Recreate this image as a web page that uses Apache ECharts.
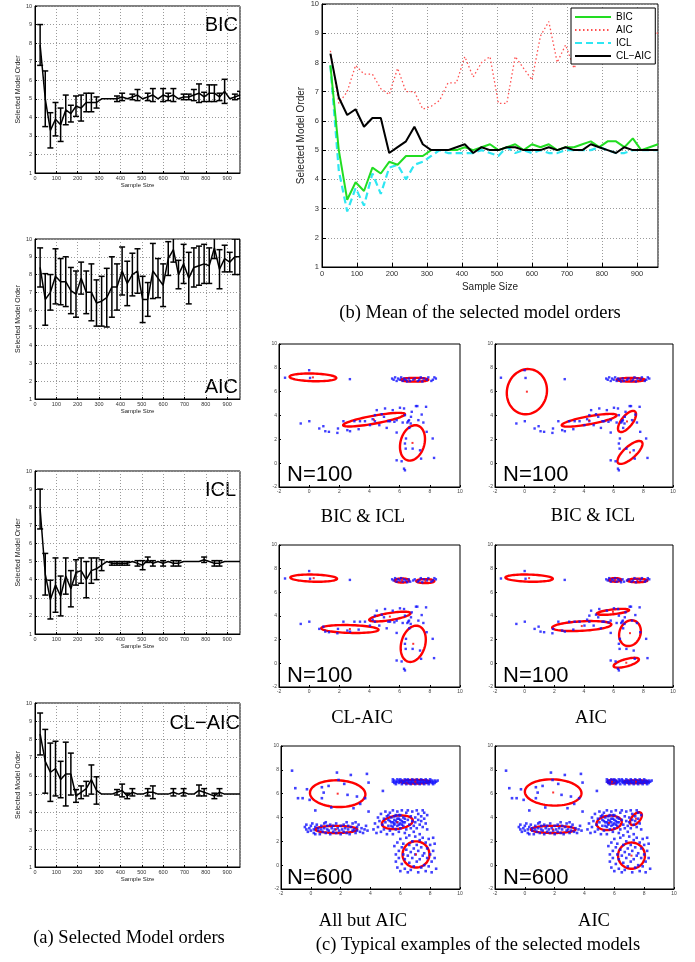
<!DOCTYPE html>
<html>
<head>
<meta charset="utf-8">
<script src="https://cdn.jsdelivr.net/npm/echarts@6/dist/echarts.min.js"></script>
<style>
  html, body { margin: 0; padding: 0; background: #fff; }
  #main { width: 695px; height: 962px; }
</style>
</head>
<body>
<div id="main"></div>
<script>
// sample sizes on the x axis
var sizes = [24, 48, 72, 96, 120, 144, 168, 192, 216, 240, 264, 288, 312, 336, 360, 384, 408, 432, 456, 480,
  504, 528, 552, 576, 600, 624, 648, 672, 696, 720, 744, 768, 792, 816, 840, 864, 888, 912, 936, 960];

// mean selected order and error bar half widths
var bicMean = [7.9, 5.0, 3.3, 3.9, 3.6, 4.4, 4.2, 4.6, 4.5, 4.8, 4.8, 4.8, 5.0, 5.0, 5.0, 5.0, 5.1, 5.0, 5.1, 5.2,
  5.0, 5.1, 5.2, 5.0, 5.2, 5.1, 5.2, 5.0, 5.1, 5.1, 5.2, 5.3, 5.1, 5.3, 5.3, 5.1, 5.4, 5.0, 5.1, 5.2];
var bicErr = [1.1, 1.5, 0.95, 0.9, 0.9, 0.8, 0.45, 0.55, 0.7, 0.5, 0.5, 0.3, 0, 0, 0, 0.15, 0.2, 0, 0.15, 0.3,
  0, 0.2, 0.35, 0, 0.35, 0.2, 0.35, 0, 0.15, 0.15, 0.3, 0.5, 0.25, 0.45, 0.45, 0.2, 0.65, 0, 0.15, 0.2];

var aicMean = [8.4, 6.6, 7.0, 7.9, 7.6, 7.6, 7.1, 6.9, 7.8, 7.0, 7.0, 6.4, 6.5, 6.7, 7.3, 7.3, 8.2, 7.5, 8.0, 8.2,
  6.6, 6.6, 8.2, 7.8, 7.4, 8.9, 9.4, 8.0, 8.6, 7.8, 8.4, 8.5, 8.6, 8.5, 9.5, 8.3, 8.9, 8.7, 9.0, 9.0];
var aicErr = [1.1, 1.45, 1.0, 1.55, 1.3, 1.4, 1.3, 1.3, 0.9, 1.2, 1.6, 1.3, 1.4, 1.65, 1.7, 1.3, 1.35, 1.25, 1.2, 1.25,
  1.3, 0.95, 1.55, 1.1, 1.2, 0.95, 0.7, 0.8, 1.1, 1.45, 1.1, 1.1, 1.1, 1.0, 0.6, 1.1, 0.75, 0.55, 1.0, 1.0];

var iclMean = [7.9, 4.3, 2.9, 3.7, 3.1, 4.2, 3.5, 4.4, 4.5, 4.0, 4.5, 4.6, 4.8, 5.0, 4.9, 4.9, 4.9, 4.9, 5.0, 4.9,
  4.8, 5.1, 4.9, 5.0, 4.9, 5.0, 4.9, 4.9, 5.0, 5.0, 5.0, 5.0, 5.1, 5.0, 4.9, 4.9, 5.0, 5.0, 5.0, 5.0];
var iclErr = [1.1, 1.15, 1.07, 1.5, 1.1, 1.0, 1.0, 0.7, 0.7, 1.0, 0.7, 0.6, 0.3, 0, 0.1, 0.1, 0.1, 0.1, 0, 0.15,
  0.25, 0.15, 0.15, 0, 0.15, 0, 0.15, 0.15, 0, 0, 0, 0, 0.15, 0, 0.15, 0.15, 0, 0, 0, 0];

var claicMean = [8.3, 6.8, 6.2, 6.4, 5.8, 6.1, 6.1, 4.9, 5.1, 5.3, 5.8, 5.2, 5.0, 5.0, 5.0, 5.1, 5.2, 4.9, 5.1, 5.0,
  5.0, 5.1, 5.1, 5.0, 5.0, 5.0, 5.1, 5.0, 5.1, 5.0, 5.0, 5.2, 5.1, 5.0, 4.9, 5.1, 5.0, 5.0, 5.0, 5.0];
var claicErr = [1.15, 1.75, 1.6, 1.5, 1.0, 1.75, 1.15, 0.35, 0.35, 0.4, 0.8, 0.75, 0, 0, 0, 0.15, 0.35, 0.15, 0.2, 0,
  0, 0.2, 0.35, 0, 0, 0, 0.2, 0, 0.2, 0, 0, 0.3, 0.2, 0, 0.15, 0.2, 0, 0, 0, 0];

// data points, N=100
var pts100 = [
  [-1.6, 7.17], [0.0, 7.8], [0.06, 7.15], [2.7, 7.05],
  [5.5, 7.1], [5.6, 7.0], [5.7, 7.2], [5.8, 6.9], [5.9, 7.1], [6.0, 7.0], [6.1, 7.2], [6.2, 6.9], [6.3, 7.1],
  [6.4, 7.0], [6.5, 6.85], [6.6, 7.1], [6.7, 6.9], [6.9, 7.0], [7.0, 7.1], [7.2, 6.9], [7.3, 7.0], [7.4, 7.2],
  [7.5, 6.85], [7.6, 7.1], [7.8, 7.0], [7.9, 7.2], [8.1, 6.9], [8.2, 7.0], [8.3, 7.2], [8.4, 7.1],
  [-0.56, 3.33], [0.01, 3.52], [0.67, 2.91], [0.94, 3.1], [1.07, 2.68], [1.31, 2.63], [1.87, 2.54], [1.91, 2.91],
  [2.27, 3.52], [2.53, 2.77], [2.71, 2.68], [3.0, 3.52], [3.28, 2.85], [3.37, 3.52], [3.7, 3.52], [4.03, 3.19],
  [4.21, 3.69], [4.36, 4.03], [4.48, 4.45], [4.36, 3.52], [4.65, 3.19], [4.81, 4.11], [4.96, 3.89], [5.03, 4.59],
  [5.14, 2.96], [5.25, 3.52], [5.36, 3.52], [5.54, 4.45], [5.65, 3.47], [5.8, 3.61], [6.02, 4.65], [6.2, 3.41],
  [6.29, 4.59], [6.35, 4.03], [6.51, 3.41], [6.62, 3.61], [6.75, 3.89], [6.8, 4.31], [7.08, 4.79], [7.17, 4.79],
  [7.24, 3.61], [7.57, 3.41], [7.75, 4.73], [7.46, 4.08], [6.57, 3.52], [6.73, 3.33],
  [5.8, 2.57], [6.64, 2.96], [6.42, 2.07], [6.35, 1.65], [6.4, 1.22], [6.86, 1.22], [7.35, 1.08], [7.42, 0.38],
  [7.79, 2.63], [8.19, 2.07], [8.28, 0.44], [5.8, 0.24], [6.13, 0.16], [6.29, -0.46], [6.35, -0.6]
];

// data points, N=600
var pts600 = [
  [-1.26, 7.93], [-1.04, 6.46], [-0.86, 5.62], [-0.55, 5.62], [-0.26, 6.37], [-0.08, 5.48], [0.3, 4.59], [0.74, 6.54],
  [0.86, 6.09], [1.19, 6.65], [1.37, 4.84], [1.75, 7.77], [1.86, 7.15], [2.68, 7.57], [2.46, 5.9], [3.09, 5.76],
  [3.31, 5.14], [3.76, 7.66], [3.87, 6.93], [3.64, 5.62], [4.83, 6.23], [3.87, 4.5], [0.74, 5.62], [2.24, 6.82], [2.86, 4.78],
  [5.5, 7.0], [5.5, 7.2], [5.6, 6.9], [5.6, 7.1], [5.7, 7.0], [5.7, 6.8], [5.8, 7.2], [5.8, 7.0], [5.9, 6.9], [5.9, 7.1],
  [6.0, 7.0], [6.0, 7.2], [6.1, 6.8], [6.1, 7.1], [6.2, 7.0], [6.2, 6.9], [6.3, 7.2], [6.3, 7.0], [6.4, 6.8], [6.4, 7.1],
  [6.5, 7.0], [6.5, 7.2], [6.6, 6.9], [6.6, 7.1], [6.7, 7.0], [6.7, 6.8], [6.8, 7.2], [6.8, 7.0], [6.9, 6.9], [6.9, 7.1],
  [7.0, 7.0], [7.0, 6.8], [7.1, 7.2], [7.1, 7.0], [7.2, 6.9], [7.2, 7.1], [7.3, 7.0], [7.3, 6.8], [7.4, 7.2], [7.4, 7.0],
  [7.5, 6.9], [7.5, 7.1], [7.6, 7.0], [7.6, 6.8], [7.7, 7.2], [7.7, 7.0], [7.8, 6.9], [7.8, 7.1], [7.9, 7.0], [7.9, 6.8],
  [8.0, 7.2], [8.0, 7.0], [8.1, 6.9], [8.1, 7.1], [8.2, 7.0], [8.2, 6.8], [8.3, 7.1], [8.3, 6.9], [8.4, 7.0], [8.5, 7.1],
  [-0.4, 3.2], [-0.3, 3.0], [-0.3, 3.4], [-0.2, 2.8], [-0.1, 3.1], [0.0, 3.3], [0.0, 2.9], [0.1, 3.5], [0.2, 3.0], [0.2, 2.7],
  [0.3, 3.2], [0.4, 3.4], [0.5, 2.9], [0.5, 3.1], [0.6, 2.6], [0.7, 3.3], [0.7, 3.0], [0.8, 2.8], [0.9, 3.5], [0.9, 3.1],
  [1.0, 2.7], [1.1, 3.0], [1.1, 3.3], [1.2, 2.9], [1.3, 3.4], [1.3, 2.6], [1.4, 3.1], [1.5, 2.8], [1.5, 3.3], [1.6, 3.0],
  [1.7, 2.7], [1.7, 3.5], [1.8, 3.1], [1.9, 2.9], [2.0, 3.3], [2.0, 2.6], [2.1, 3.0], [2.2, 3.4], [2.2, 2.8], [2.3, 3.1],
  [2.4, 2.7], [2.5, 3.3], [2.5, 3.0], [2.6, 2.6], [2.7, 3.2], [2.8, 2.9], [2.8, 3.5], [2.9, 3.0], [3.0, 2.7], [3.1, 3.2],
  [3.1, 2.9], [3.2, 3.4], [3.3, 2.8], [3.4, 3.1], [3.5, 2.7], [3.6, 3.0], [3.7, 3.3], [3.8, 2.9], [0.3, 2.6], [1.0, 3.6],
  [2.4, 3.6], [3.0, 3.6],
  [4.2, 3.0], [4.3, 3.5], [4.4, 2.7], [4.5, 4.0], [4.5, 3.2], [4.6, 3.7], [4.7, 2.8], [4.7, 4.3], [4.8, 3.4], [4.9, 3.9],
  [4.9, 3.0], [5.0, 4.5], [5.0, 3.6], [5.1, 2.6], [5.1, 4.1], [5.2, 3.3], [5.2, 3.8], [5.3, 4.4], [5.3, 2.9], [5.4, 3.6],
  [5.4, 4.0], [5.5, 3.2], [5.5, 4.6], [5.5, 2.6], [5.6, 3.8], [5.6, 3.4], [5.7, 4.2], [5.7, 3.0], [5.8, 3.6], [5.8, 4.5],
  [5.8, 3.3], [5.9, 3.9], [5.9, 2.8], [6.0, 3.5], [6.0, 4.2], [6.0, 3.1], [6.1, 3.7], [6.1, 4.6], [6.2, 3.3], [6.2, 4.0],
  [6.3, 2.7], [6.3, 3.6], [6.4, 4.4], [6.4, 3.0], [6.5, 3.8], [6.5, 4.6], [6.6, 3.4], [6.6, 2.5], [6.7, 4.1], [6.7, 3.1],
  [6.8, 3.7], [6.8, 4.5], [6.9, 3.3], [6.9, 2.8], [7.0, 4.0], [7.0, 3.6], [7.1, 4.6], [7.1, 3.1], [7.2, 3.8], [7.2, 4.3],
  [7.3, 3.4], [7.3, 2.6], [7.4, 4.1], [7.4, 3.7], [7.5, 4.6], [7.5, 3.2], [7.6, 3.9], [7.6, 4.4], [7.7, 3.5], [7.8, 4.2],
  [7.8, 3.0], [5.6, 3.5], [5.7, 3.7], [5.9, 3.4], [6.0, 3.8], [5.5, 3.6], [5.8, 3.9], [6.1, 3.4], [5.4, 3.3], [5.3, 3.7],
  [6.2, 3.6], [5.6, 4.1], [5.9, 4.2], [6.3, 3.9], [5.2, 4.2],
  [5.6, 1.6], [5.7, 0.9], [5.7, 0.3], [5.8, 1.9], [5.8, -0.2], [5.9, 1.2], [5.9, 0.6], [6.0, 2.2], [6.0, -0.5], [6.1, 1.5],
  [6.1, 0.1], [6.2, 0.9], [6.2, 1.8], [6.3, -0.3], [6.3, 0.5], [6.4, 2.3], [6.4, 1.3], [6.5, -0.6], [6.5, 0.8], [6.6, 1.7],
  [6.6, 0.2], [6.7, 1.1], [6.7, -0.4], [6.8, 2.0], [6.8, 0.6], [6.9, 1.4], [6.9, -0.1], [7.0, 2.4], [7.0, 0.9], [7.1, 0.3],
  [7.1, 1.7], [7.2, -0.6], [7.2, 1.2], [7.3, 0.5], [7.3, 2.1], [7.4, -0.2], [7.4, 1.5], [7.5, 0.8], [7.5, 2.3], [7.6, 0.0],
  [7.6, 1.0], [7.7, 1.9], [7.7, -0.5], [7.8, 0.6], [7.8, 1.4], [7.9, 2.2], [7.9, -0.1], [8.0, 0.9], [8.0, 1.7], [8.1, 0.3],
  [8.1, -0.6], [8.2, 1.2], [8.2, 2.3], [8.3, 0.6], [8.3, 1.8], [8.4, -0.3]
];

// fitted components: [cx, cy, semi axis a, semi axis b, angle deg]
var ellBicIclA = [[0.25, 7.2, 1.55, 0.32, -2], [7.0, 7.0, 0.9, 0.16, 0], [4.3, 3.65, 2.1, 0.33, 13], [6.85, 1.7, 1.5, 0.8, 80]];
var ellBicIclB = [[0.15, 6.0, 1.9, 1.35, 85], [7.15, 7.0, 0.95, 0.15, 0], [4.35, 3.6, 1.9, 0.33, 13], [6.9, 3.5, 1.0, 0.4, 60], [7.1, 0.9, 1.2, 0.45, 50]];
var ellClAic = [[0.3, 7.2, 1.55, 0.3, -2], [6.15, 7.0, 0.48, 0.17, 0], [7.7, 6.95, 0.6, 0.17, 0], [2.7, 2.9, 1.9, 0.33, -2], [5.35, 3.95, 1.4, 0.3, 12], [6.9, 1.65, 1.55, 0.8, 80]];
var ellAic100 = [[0.3, 7.2, 1.6, 0.3, -2], [6.1, 7.05, 0.42, 0.15, 0], [7.6, 7.0, 0.67, 0.15, 0], [5.95, 4.35, 1.1, 0.2, 8], [3.85, 3.15, 2.0, 0.4, 4], [7.1, 2.55, 1.1, 0.72, 80], [6.85, 0.05, 0.9, 0.3, 20]];
var ellAllButAic = [[1.8, 6.0, 1.86, 1.12, -3], [7.0, 7.0, 1.0, 0.15, 0], [1.7, 3.0, 1.4, 0.3, 0], [5.8, 3.6, 1.05, 0.55, 10], [7.05, 0.9, 0.9, 1.1, 0]];
var ellAic600 = [[1.9, 6.1, 1.9, 1.1, -3], [5.85, 7.0, 0.3, 0.15, 0], [7.45, 7.0, 0.8, 0.12, 0], [1.9, 3.0, 1.5, 0.3, 0], [5.65, 3.55, 0.85, 0.6, 10], [7.45, 3.9, 0.6, 0.3, 60], [7.15, 0.8, 0.9, 1.1, 0]];

// labels
var orderNames = ['BIC', 'AIC', 'ICL', 'CL\u2212AIC'];
var panelCaptions = ['BIC & ICL', 'BIC & ICL', 'CL-AIC', 'AIC', 'All but AIC', 'AIC'];
var panelN = ['N=100', 'N=100', 'N=100', 'N=100', 'N=600', 'N=600'];

var SANS = '"Liberation Sans", Arial, Helvetica, sans-serif';
var SERIF = '"Liberation Serif", "Times New Roman", serif';

var chart = echarts.init(document.getElementById('main'), null, { renderer: 'canvas' });

function pairs(xs, ys) {
  return xs.map(function (x, i) { return [x, ys[i]]; });
}
function bars(xs, ys, es) {
  var out = [];
  xs.forEach(function (x, i) {
    if (es[i] > 0) out.push([x, ys[i] - es[i], ys[i] + es[i]]);
  });
  return out;
}

function errorBarItem(params, api) {
  var x = api.value(0);
  var lo = api.coord([x, api.value(1)]);
  var hi = api.coord([x, api.value(2)]);
  var w = 3;
  var st = { stroke: '#000', lineWidth: 1.5 };
  return {
    type: 'group',
    children: [
      { type: 'line', shape: { x1: lo[0], y1: lo[1], x2: hi[0], y2: hi[1] }, style: st },
      { type: 'line', shape: { x1: lo[0] - w, y1: lo[1], x2: lo[0] + w, y2: lo[1] }, style: st },
      { type: 'line', shape: { x1: hi[0] - w, y1: hi[1], x2: hi[0] + w, y2: hi[1] }, style: st }
    ]
  };
}

function ellipseItem(params, api) {
  var cx = api.value(0), cy = api.value(1), a = api.value(2), b = api.value(3);
  var t = api.value(4) * Math.PI / 180;
  var pts = [];
  for (var k = 0; k < 72; k++) {
    var f = k / 72 * 2 * Math.PI;
    var ex = a * Math.cos(f), ey = b * Math.sin(f);
    pts.push(api.coord([cx + ex * Math.cos(t) - ey * Math.sin(t), cy + ex * Math.sin(t) + ey * Math.cos(t)]));
  }
  return { type: 'polygon', shape: { points: pts }, style: { fill: 'none', stroke: '#ff0000', lineWidth: 2.4 } };
}

var grids = [
  { left: 35, top: 6, width: 205, height: 167 },
  { left: 35, top: 239, width: 205, height: 160 },
  { left: 35, top: 471, width: 205, height: 163 },
  { left: 35, top: 703, width: 205, height: 164 },
  { left: 322, top: 3, width: 336, height: 264 },
  { left: 279, top: 344, width: 181, height: 143 },
  { left: 495, top: 344, width: 178, height: 143 },
  { left: 279, top: 545, width: 181, height: 142 },
  { left: 495, top: 545, width: 178, height: 142 },
  { left: 281, top: 746, width: 179, height: 143 },
  { left: 495, top: 746, width: 179, height: 143 }
];
grids.forEach(function (g) {
  g.show = true;
  g.borderColor = '#000';
  g.borderWidth = 1;
  g.backgroundColor = '#fff';
});

var xAxes = [], yAxes = [];
var dotted = { type: [1, 2], color: '#9a9a9a', width: 1 };

function orderAxes(gi, big) {
  var fs = big ? 7.5 : 5.5;
  xAxes.push({
    gridIndex: gi, type: 'value', min: 0, max: 960, interval: 100,
    name: 'Sample Size', nameLocation: 'middle', nameGap: big ? 15 : 7,
    nameTextStyle: { fontSize: big ? 10 : 6, fontFamily: SANS, color: '#222' },
    axisLine: { onZero: false, lineStyle: { color: '#000', width: 1 } },
    axisTick: { inside: true, length: big ? 4 : 2, lineStyle: { color: '#000' } },
    axisLabel: { fontSize: fs, fontFamily: SANS, color: '#333', margin: big ? 3 : 2, showMaxLabel: false },
    splitLine: { show: true, lineStyle: dotted }
  });
  yAxes.push({
    gridIndex: gi, type: 'value', min: 1, max: 10, interval: 1,
    name: 'Selected Model Order', nameLocation: 'middle', nameGap: big ? 16 : 11,
    nameTextStyle: { fontSize: big ? 10 : 7, fontFamily: SANS, color: '#222' },
    axisLine: { onZero: false, lineStyle: { color: '#000', width: 1 } },
    axisTick: { inside: true, length: big ? 4 : 2, lineStyle: { color: '#000' } },
    axisLabel: { fontSize: fs, fontFamily: SANS, color: '#333', margin: 3 },
    splitLine: { show: true, lineStyle: dotted }
  });
}

function panelAxes(gi) {
  ['x', 'y'].forEach(function (dim) {
    var ax = {
      gridIndex: gi, type: 'value', min: -2, max: 10, interval: 2,
      axisLine: { onZero: false, lineStyle: { color: '#000', width: 1 } },
      axisTick: { inside: true, length: 2, lineStyle: { color: '#000' } },
      axisLabel: { fontSize: 5, fontFamily: SANS, color: '#444', margin: 2 },
      splitLine: { show: false }
    };
    if (dim === 'x') xAxes.push(ax); else yAxes.push(ax);
  });
}

for (var g = 0; g < 4; g++) orderAxes(g, false);
orderAxes(4, true);
for (var p = 5; p < 11; p++) panelAxes(p);

var series = [];
var smallSets = [[bicMean, bicErr], [aicMean, aicErr], [iclMean, iclErr], [claicMean, claicErr]];
smallSets.forEach(function (s, i) {
  series.push({
    type: 'line', xAxisIndex: i, yAxisIndex: i, data: pairs(sizes, s[0]),
    symbol: 'none', silent: true, lineStyle: { color: '#000', width: 1.5 }
  });
  series.push({
    type: 'custom', xAxisIndex: i, yAxisIndex: i, data: bars(sizes, s[0], s[1]),
    renderItem: errorBarItem, clip: true, silent: true,
    encode: { x: 0, y: [1, 2] }
  });
});

// mean chart (b)
series.push({
  name: 'AIC', type: 'line', xAxisIndex: 4, yAxisIndex: 4, data: pairs(sizes, aicMean), symbol: 'none',
  lineStyle: { color: '#ff5050', width: 1.3, type: [1.5, 2.5] }, itemStyle: { color: '#ff5050' }
});
series.push({
  name: 'ICL', type: 'line', xAxisIndex: 4, yAxisIndex: 4, data: pairs(sizes, iclMean), symbol: 'none',
  lineStyle: { color: '#2ee6f2', width: 2.2, type: [7, 4] }, itemStyle: { color: '#2ee6f2' }
});
series.push({
  name: 'BIC', type: 'line', xAxisIndex: 4, yAxisIndex: 4, data: pairs(sizes, bicMean), symbol: 'none',
  lineStyle: { color: '#22dd22', width: 2 }, itemStyle: { color: '#22dd22' }
});
series.push({
  name: 'CL\u2212AIC', type: 'line', xAxisIndex: 4, yAxisIndex: 4, data: pairs(sizes, claicMean), symbol: 'none',
  lineStyle: { color: '#000', width: 2 }, itemStyle: { color: '#000' }
});

// model examples (c)
var panelPts = [pts100, pts100, pts100, pts100, pts600, pts600];
var panelElls = [ellBicIclA, ellBicIclB, ellClAic, ellAic100, ellAllButAic, ellAic600];
panelPts.forEach(function (pts, i) {
  var ax = i + 5;
  series.push({
    type: 'scatter', xAxisIndex: ax, yAxisIndex: ax, data: pts, silent: true,
    symbol: 'rect', symbolSize: i >= 4 ? 2.6 : 2.4, itemStyle: { color: '#1010ff' }
  });
  series.push({
    type: 'custom', xAxisIndex: ax, yAxisIndex: ax, data: panelElls[i], silent: true,
    renderItem: ellipseItem, encode: { x: 0, y: 1 }
  });
  series.push({
    type: 'scatter', xAxisIndex: ax, yAxisIndex: ax, silent: true,
    data: panelElls[i].map(function (e) { return [e[0], e[1]]; }),
    symbol: 'rect', symbolSize: 2, itemStyle: { color: '#ff0000' }, z: 5
  });
});

function txt(x, y, s, size, font, align) {
  return {
    type: 'text', x: x, y: y, silent: true,
    style: {
      text: s, fontSize: size, fontFamily: font, fill: '#000',
      align: align || 'center', textAlign: align || 'center',
      verticalAlign: 'middle', textVerticalAlign: 'middle'
    }
  };
}

var graphics = [
  txt(238, 25, 'BIC', 20, SANS, 'right'),
  txt(238, 387, 'AIC', 20, SANS, 'right'),
  txt(236, 490, 'ICL', 20, SANS, 'right'),
  txt(240, 723, 'CL\u2212AIC', 20, SANS, 'right'),
  txt(129, 938, '(a) Selected Model orders', 18.5, SERIF),
  txt(480, 313, '(b) Mean of the selected model orders', 18.5, SERIF),
  txt(478, 945, '(c) Typical examples of the selected models', 18.5, SERIF)
];
var nPos = [[287, 475], [503, 475], [287, 676], [503, 676], [287, 878], [503, 878]];
var capPos = [[363, 517], [593, 516], [362, 718], [591, 718], [363, 921], [594, 921]];
panelN.forEach(function (s, i) {
  graphics.push(txt(nPos[i][0], nPos[i][1], s, 22, SANS, 'left'));
  graphics.push(txt(capPos[i][0], capPos[i][1], panelCaptions[i], 18.5, SERIF));
});

var option = {
  animation: false,
  backgroundColor: '#fff',
  grid: grids,
  xAxis: xAxes,
  yAxis: yAxes,
  legend: {
    data: orderNames,
    left: 571, top: 8,
    orient: 'vertical',
    itemWidth: 36, itemHeight: 10, itemGap: 3,
    padding: [4, 4, 3, 3],
    backgroundColor: '#fff',
    borderColor: '#000', borderWidth: 1, borderRadius: 0,
    itemStyle: { opacity: 0 },
    textStyle: { fontSize: 10, fontFamily: SANS, color: '#000' },
    selectedMode: false
  },
  series: series,
  graphic: graphics
};

chart.setOption(option);
</script>
</body>
</html>
